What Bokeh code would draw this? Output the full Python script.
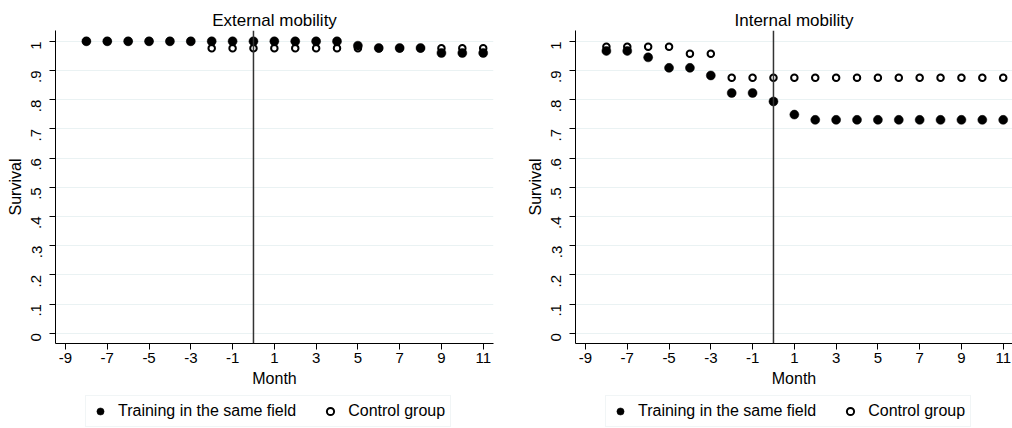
import math
from bokeh.plotting import figure
from bokeh.models import Range1d, FixedTicker, Span, Legend, LegendItem
from bokeh.layouts import row, column
from bokeh.embed import file_html
from bokeh.resources import INLINE

# ---------------- data ----------------
months = list(range(-8, 12))

ext_training = [1.0, 1.0, 1.0, 1.0, 1.0, 1.0,
                1.0, 1.0, 1.0, 1.0, 1.0, 1.0, 1.0,
                0.985, 0.977, 0.977, 0.977,
                0.960, 0.960, 0.960]
ext_control = [1.0, 1.0, 1.0, 1.0, 1.0, 1.0,
               0.976, 0.976, 0.976, 0.976, 0.976, 0.976, 0.976,
               0.976, 0.976, 0.976, 0.976,
               0.976, 0.976, 0.976]

int_training = [0.967, 0.967, 0.945, 0.909, 0.909, 0.883, 0.823, 0.823, 0.794, 0.749,
                0.731, 0.731, 0.731, 0.731, 0.731, 0.731, 0.731, 0.731, 0.731, 0.731]
int_control = [0.981, 0.981, 0.981, 0.981, 0.957, 0.957,
               0.875, 0.875, 0.875, 0.875, 0.875, 0.875, 0.875,
               0.875, 0.875, 0.875, 0.875, 0.875, 0.875, 0.875]

titles = ["External mobility", "Internal mobility"]
x_ticks = [-9, -7, -5, -3, -1, 1, 3, 5, 7, 9, 11]
y_ticks = [0, 0.1, 0.2, 0.3, 0.4, 0.5, 0.6, 0.7, 0.8, 0.9, 1]
y_tick_labels = ["0", ".1", ".2", ".3", ".4", ".5", ".6", ".7", ".8", ".9", "1"]
series_labels = ["Training in the same field", "Control group"]
x_label = "Month"
y_label = "Survival"

FONT = "Liberation Sans"
GRID = "#EAF2F3"
PX_PER_MONTH = 20.885
X_START = -9.479
LEFT = 55
MAIN_H = 393
LEG_H = 428 - MAIN_H


def style_markers():
    return (dict(marker="circle", size=9, fill_color="black", line_color="black", line_width=0.5),
            dict(marker="circle", size=6.5, fill_color="white", line_color="black", line_width=2))


def make_panel(title, treat, ctrl, width, border_right):
    frame_w = width - LEFT - border_right
    x_end = X_START + frame_w / PX_PER_MONTH
    p = figure(width=width, height=MAIN_H, output_backend="svg", toolbar_location=None,
               x_range=Range1d(X_START, x_end), y_range=Range1d(-0.035, 1.037),
               min_border_left=LEFT, min_border_right=border_right,
               min_border_top=30, min_border_bottom=MAIN_H - 343)
    p.outline_line_color = None
    p.background_fill_color = "white"
    p.border_fill_color = "white"

    # title
    p.title.text = title
    p.title.align = "center"
    p.title.text_font = FONT
    p.title.text_font_size = "17px"
    p.title.text_font_style = "normal"
    p.title.text_color = "black"
    p.title.standoff = 2

    # axes
    p.xaxis.ticker = FixedTicker(ticks=x_ticks)
    p.yaxis.ticker = FixedTicker(ticks=y_ticks)
    p.yaxis.major_label_overrides = {t: l for t, l in zip(y_ticks, y_tick_labels)}
    p.xaxis.major_label_overrides = {t: str(t) for t in x_ticks}
    for ax in (p.xaxis, p.yaxis):
        ax.axis_line_color = "black"
        ax.axis_line_width = 1
        ax.major_tick_line_color = "black"
        ax.major_tick_in = 0
        ax.major_tick_out = 6
        ax.minor_tick_line_color = None
        ax.major_label_text_font = FONT
        ax.major_label_text_font_size = "15px"
        ax.major_label_text_color = "black"
        ax.axis_label_text_font = FONT
        ax.axis_label_text_font_size = "16px"
        ax.axis_label_text_font_style = "normal"
        ax.axis_label_text_color = "black"
    p.xaxis.axis_label = x_label
    p.yaxis.axis_label = y_label
    p.xaxis.major_label_standoff = 3
    p.xaxis.axis_label_standoff = 4
    p.yaxis.major_label_standoff = 13
    p.yaxis.axis_label_standoff = 0
    p.yaxis.major_label_orientation = math.pi / 2

    p.xgrid.grid_line_color = None
    p.ygrid.grid_line_color = GRID
    p.ygrid.grid_line_width = 1

    # vertical reference line at month 0
    p.add_layout(Span(location=0, dimension="height", line_color="#333333", line_width=1.5))

    st_t, st_c = style_markers()
    p.scatter(months, ctrl, **st_c)
    p.scatter(months, treat, **st_t)
    return p


def make_legend(width):
    lf = figure(width=width, height=LEG_H, output_backend="svg", toolbar_location=None,
                x_range=Range1d(0, 1), y_range=Range1d(0, 1),
                min_border_left=0, min_border_right=0, min_border_top=0, min_border_bottom=0)
    lf.axis.visible = False
    lf.grid.visible = False
    lf.outline_line_color = None
    st_t, st_c = style_markers()
    r_t = lf.scatter([-5], [-5], **st_t)
    r_c = lf.scatter([-5], [-5], **st_c)
    legend = Legend(items=[LegendItem(label=series_labels[0], renderers=[r_t]),
                           LegendItem(label=series_labels[1], renderers=[r_c])],
                    orientation="horizontal", location=(LEFT + 30, 1))
    legend.margin = 0
    legend.border_line_color = "#E4ECEE"
    legend.border_line_width = 1
    legend.background_fill_color = "white"
    legend.background_fill_alpha = 1
    legend.padding = 5
    legend.spacing = 25
    legend.glyph_width = 18
    legend.glyph_height = 18
    legend.label_standoff = 9
    legend.label_height = 20
    legend.label_text_font = FONT
    legend.label_text_font_size = "16px"
    legend.label_text_color = "black"
    lf.add_layout(legend)
    return lf


p1 = make_panel(titles[0], ext_training, ext_control, 520, 27)
p2 = make_panel(titles[1], int_training, int_control, 492, 0)
l1 = make_legend(520)
l2 = make_legend(492)

layout = column(row(p1, p2, spacing=0), row(l1, l2, spacing=0), spacing=0)
open("out.html", "w").write(file_html(layout, INLINE))
